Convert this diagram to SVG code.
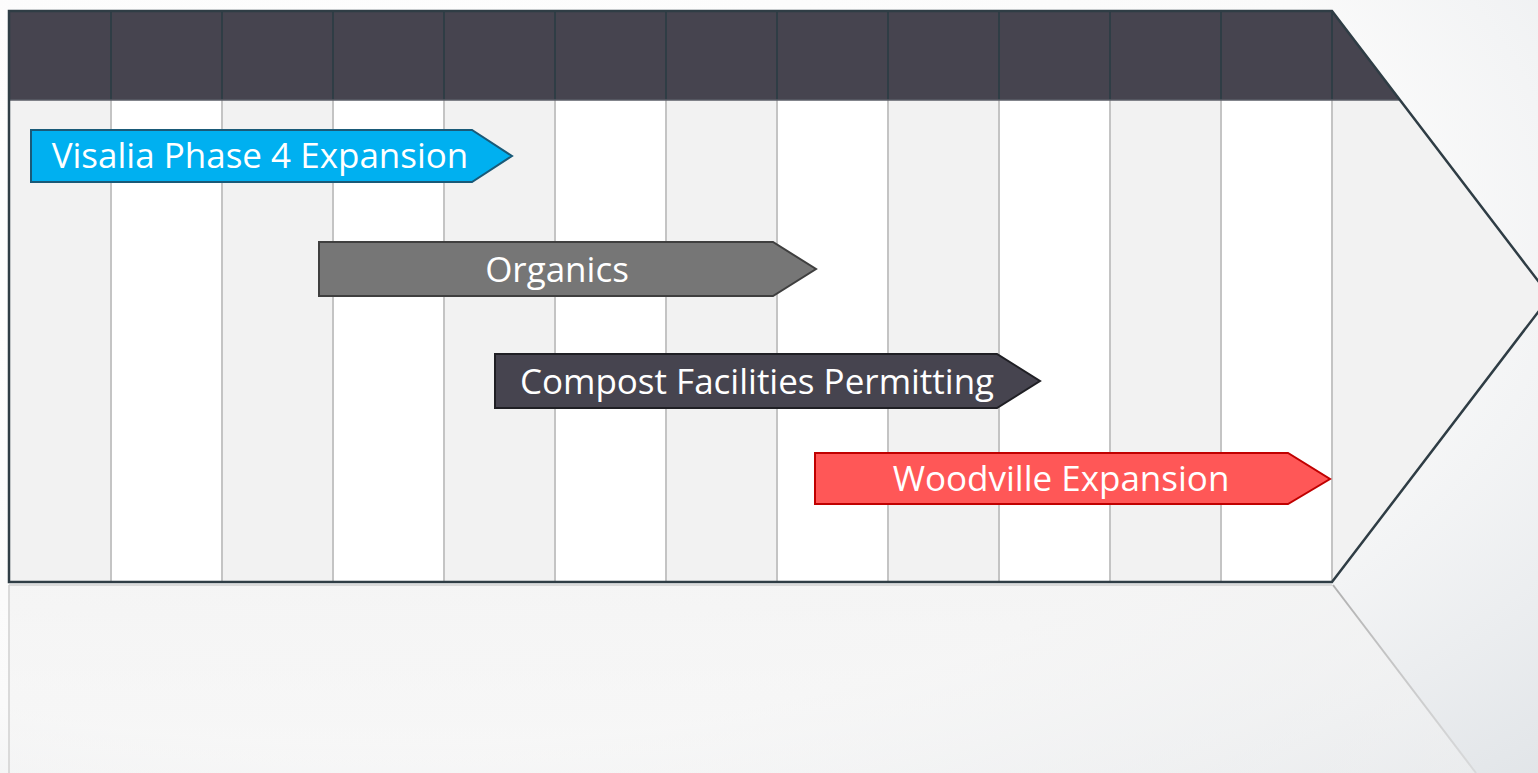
<svg xmlns="http://www.w3.org/2000/svg" width="1538" height="773" viewBox="0 0 1538 773">
<defs>
<radialGradient id="bg" cx="0.25" cy="0.3" r="1.1">
<stop offset="0" stop-color="#ffffff"/>
<stop offset="0.6" stop-color="#fafafa"/>
<stop offset="1" stop-color="#dde1e5"/>
</radialGradient>
<linearGradient id="refl" x1="0" y1="0" x2="0" y2="1">
<stop offset="0" stop-color="#f3f3f3" stop-opacity="0.8"/>
<stop offset="1" stop-color="#f3f3f3" stop-opacity="0.4"/>
</linearGradient>
<linearGradient id="reflLine" x1="0" y1="0" x2="0" y2="1">
<stop offset="0" stop-color="#b0b0b0"/>
<stop offset="1" stop-color="#d0d0d0" stop-opacity="0.6"/>
</linearGradient>
</defs>
<style>
.colG{fill:#f2f2f2}
.colW{fill:#ffffff}
.hline{stroke:#2f3d45;stroke-width:2}
.bline{stroke:#c4c4c4;stroke-width:2}
.lbl{font-family:"Open Sans","Noto Sans","Liberation Sans",sans-serif;font-size:35px;fill:#ffffff;text-anchor:middle}
</style>
<rect x="0" y="0" width="1538" height="773" fill="url(#bg)"/>
<g id="reflection">
<polygon points="9,585 1332,585 1475,773 9,773" fill="url(#refl)"/>
<line x1="9" y1="585" x2="9" y2="773" stroke="#dadada" stroke-width="2"/>
<line x1="1333" y1="585" x2="1476" y2="773" stroke="url(#reflLine)" stroke-width="2"/>
<line x1="9" y1="585" x2="1332" y2="585" stroke="#d0d0d0" stroke-width="1.5"/>
</g>
<g id="timeline">
<rect class="colG" x="9" y="100" width="102" height="482"/>
<rect class="colW" x="111" y="100" width="111" height="482"/>
<rect class="colG" x="222" y="100" width="111" height="482"/>
<rect class="colW" x="333" y="100" width="111" height="482"/>
<rect class="colG" x="444" y="100" width="111" height="482"/>
<rect class="colW" x="555" y="100" width="111" height="482"/>
<rect class="colG" x="666" y="100" width="111" height="482"/>
<rect class="colW" x="777" y="100" width="111" height="482"/>
<rect class="colG" x="888" y="100" width="111" height="482"/>
<rect class="colW" x="999" y="100" width="111" height="482"/>
<rect class="colG" x="1110" y="100" width="111" height="482"/>
<rect class="colW" x="1221" y="100" width="111" height="482"/>
<polygon class="colG" points="1332,100 1400,100 1550,296.5 1332,582"/>
<polygon points="9,11 1332,11 1400,100 9,100" fill="#46444f"/>
<g>
<line class="hline" x1="111" y1="11" x2="111" y2="100"/>
<line class="hline" x1="222" y1="11" x2="222" y2="100"/>
<line class="hline" x1="333" y1="11" x2="333" y2="100"/>
<line class="hline" x1="444" y1="11" x2="444" y2="100"/>
<line class="hline" x1="555" y1="11" x2="555" y2="100"/>
<line class="hline" x1="666" y1="11" x2="666" y2="100"/>
<line class="hline" x1="777" y1="11" x2="777" y2="100"/>
<line class="hline" x1="888" y1="11" x2="888" y2="100"/>
<line class="hline" x1="999" y1="11" x2="999" y2="100"/>
<line class="hline" x1="1110" y1="11" x2="1110" y2="100"/>
<line class="hline" x1="1221" y1="11" x2="1221" y2="100"/>
<line class="hline" x1="1332" y1="11" x2="1332" y2="100"/>
</g>
<g>
<line class="bline" x1="111" y1="100" x2="111" y2="581"/>
<line class="bline" x1="222" y1="100" x2="222" y2="581"/>
<line class="bline" x1="333" y1="100" x2="333" y2="581"/>
<line class="bline" x1="444" y1="100" x2="444" y2="581"/>
<line class="bline" x1="555" y1="100" x2="555" y2="581"/>
<line class="bline" x1="666" y1="100" x2="666" y2="581"/>
<line class="bline" x1="777" y1="100" x2="777" y2="581"/>
<line class="bline" x1="888" y1="100" x2="888" y2="581"/>
<line class="bline" x1="999" y1="100" x2="999" y2="581"/>
<line class="bline" x1="1110" y1="100" x2="1110" y2="581"/>
<line class="bline" x1="1221" y1="100" x2="1221" y2="581"/>
<line class="bline" x1="1332" y1="100" x2="1332" y2="581"/>
</g>
<line x1="9" y1="100" x2="1400" y2="100" stroke="#5a5d66" stroke-width="1.5"/>
<path d="M9,11 L1332,11 L1550,296.5 L1332,582 L9,582 Z" fill="none" stroke="#2f3d45" stroke-width="2.5"/>
</g>
<g id="visalia">
<polygon points="31,130 472,130 512,156 472,182 31,182" fill="#00b0f0" stroke="#1a5a78" stroke-width="2"/>
<text class="lbl" x="260" y="168">Visalia Phase 4 Expansion</text>
</g>
<g id="organics">
<polygon points="319,242 773,242 816,269 773,296 319,296" fill="#767676" stroke="#3f3f3f" stroke-width="2"/>
<text class="lbl" x="557" y="282">Organics</text>
</g>
<g id="compost">
<polygon points="495,354 997,354 1040,381 997,408 495,408" fill="#46444f" stroke="#1f1f24" stroke-width="2"/>
<text class="lbl" x="757" y="394">Compost Facilities Permitting</text>
</g>
<g id="woodville">
<polygon points="815,453 1288,453 1330,479 1288,504 815,504" fill="#ff5757" stroke="#c00000" stroke-width="2"/>
<text class="lbl" x="1061" y="491">Woodville Expansion</text>
</g>
</svg>
